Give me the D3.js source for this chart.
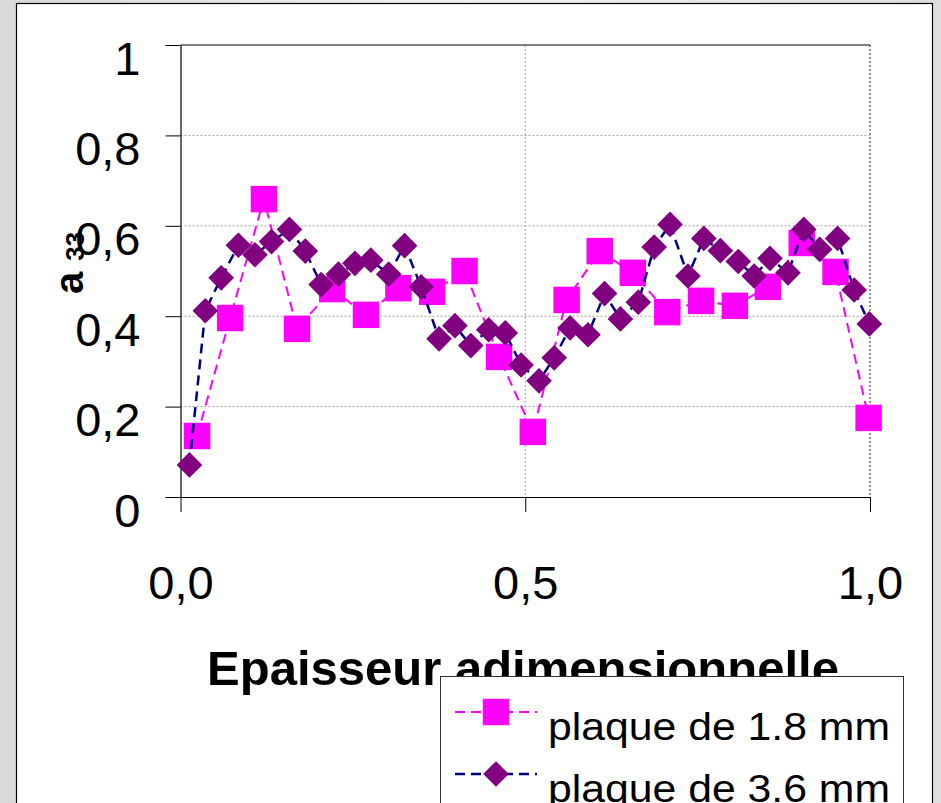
<!DOCTYPE html>
<html>
<head>
<meta charset="utf-8">
<script src="https://cdn.jsdelivr.net/npm/d3@7"></script>
<style>
  html, body { margin: 0; padding: 0; background: #ffffff; }
  svg { display: block; }
  text { font-family: "Liberation Sans", Arial, sans-serif; }
</style>
</head>
<body>
<svg id="chart" width="941" height="803"></svg>
<script>
// ---- data ----
const xTickValues = [0, 0.5, 1];
const xTickLabels = ["0,0", "0,5", "1,0"];
const yTickValues = [0, 0.2, 0.4, 0.6, 0.8, 1];
const yTickLabels = ["0", "0,2", "0,4", "0,6", "0,8", "1"];

const seriesNames = ["plaque de 1.8 mm", "plaque de 3.6 mm"];

const x18 = [0.024, 0.072, 0.121, 0.169, 0.220, 0.269, 0.316, 0.365, 0.412, 0.462, 0.511,
             0.560, 0.608, 0.656, 0.706, 0.755, 0.804, 0.852, 0.901, 0.950, 0.998];
const y18 = [0.135, 0.396, 0.659, 0.372, 0.460, 0.403, 0.462, 0.454, 0.500, 0.310, 0.144,
             0.436, 0.544, 0.496, 0.409, 0.434, 0.423, 0.465, 0.562, 0.498, 0.175];

const x36 = [0.013, 0.036, 0.059, 0.084, 0.108, 0.132, 0.158, 0.181, 0.204, 0.229, 0.253,
             0.276, 0.302, 0.325, 0.349, 0.375, 0.398, 0.421, 0.447, 0.471, 0.494, 0.520,
             0.542, 0.565, 0.591, 0.615, 0.638, 0.664, 0.687, 0.710, 0.736, 0.759, 0.783,
             0.809, 0.832, 0.855, 0.881, 0.904, 0.927, 0.953, 0.977, 0.999];
const y36 = [0.071, 0.412, 0.485, 0.557, 0.536, 0.565, 0.592, 0.544, 0.470, 0.493, 0.517,
             0.524, 0.493, 0.556, 0.465, 0.350, 0.379, 0.335, 0.370, 0.363, 0.292, 0.257,
             0.308, 0.374, 0.359, 0.450, 0.394, 0.431, 0.553, 0.603, 0.489, 0.572, 0.545,
             0.521, 0.489, 0.528, 0.496, 0.592, 0.548, 0.572, 0.458, 0.383];

// ---- layout ----
const svg = d3.select("#chart");
const plot = { left: 180.5, right: 870, top: 45, bottom: 497 };

const x = d3.scaleLinear().domain([0, 1]).range([plot.left, plot.right]);
const y = d3.scaleLinear().domain([0, 1]).range([plot.bottom, plot.top]);

// background
const defs = svg.append("defs");
const bg = defs.append("linearGradient").attr("id", "bg").attr("x1", 0).attr("x2", 1).attr("y1", 0).attr("y2", 0);
bg.append("stop").attr("offset", "0").attr("stop-color", "#d9d9d9");
bg.append("stop").attr("offset", "0.5").attr("stop-color", "#f2f2f2");
bg.append("stop").attr("offset", "1").attr("stop-color", "#dedede");
svg.append("rect").attr("x", 0).attr("y", 0).attr("width", 941).attr("height", 803).attr("fill", "url(#bg)");

// chart box
svg.append("rect").attr("x", 16.5).attr("y", 3.5).attr("width", 916).attr("height", 820)
  .attr("fill", "#ffffff").attr("stroke", "#000").attr("stroke-width", 1.2);

// gridlines (horizontal)
svg.append("g").selectAll("line").data(yTickValues.filter(v => v > 0 && v < 1)).join("line")
  .attr("x1", plot.left).attr("x2", plot.right)
  .attr("y1", d => y(d)).attr("y2", d => y(d))
  .attr("stroke", "#a0a0a0").attr("stroke-width", 1).attr("stroke-dasharray", "2,2");
// gridlines (vertical)
svg.append("g").selectAll("line").data(xTickValues.filter(v => v > 0)).join("line")
  .attr("x1", d => x(d)).attr("x2", d => x(d))
  .attr("y1", plot.top).attr("y2", plot.bottom)
  .attr("stroke", d => d === 1 ? "#707070" : "#a0a0a0").attr("stroke-width", d => d === 1 ? 1.5 : 1)
  .attr("stroke-dasharray", "2,2");

// top border
svg.append("line").attr("x1", plot.left).attr("x2", plot.right)
  .attr("y1", y(1)).attr("y2", y(1)).attr("stroke", "#000").attr("stroke-width", 1.2);

// y axis
const yAxis = d3.axisLeft(y).tickValues(yTickValues)
  .tickFormat((d, i) => yTickLabels[i]).tickSize(15).tickSizeOuter(0);
const gy = svg.append("g").attr("transform", `translate(${plot.left},0)`).call(yAxis);
gy.select(".domain").attr("stroke", "#000").attr("stroke-width", 1.2);
gy.selectAll(".tick line").attr("stroke", "#000").attr("stroke-width", 1);
gy.selectAll(".tick text").attr("x", -40).attr("dy", 0).attr("y", 29)
  .attr("font-size", 47).attr("fill", "#000")
  .style("font-family", '"Liberation Sans", Arial, sans-serif');

// x axis
const xAxis = d3.axisBottom(x).tickValues(xTickValues)
  .tickFormat((d, i) => xTickLabels[i]).tickSize(15).tickSizeOuter(0);
const gx = svg.append("g").attr("transform", `translate(0,${plot.bottom})`).call(xAxis);
gx.select(".domain").attr("stroke", "#000").attr("stroke-width", 1.2);
gx.selectAll(".tick line").attr("stroke", "#000").attr("stroke-width", 1);
gx.selectAll(".tick text").attr("y", 102).attr("dy", 0)
  .attr("font-size", 47).attr("fill", "#000")
  .style("font-family", '"Liberation Sans", Arial, sans-serif');

// axis titles
svg.append("text").attr("x", 523).attr("y", 685).attr("text-anchor", "middle")
  .attr("font-size", 49).attr("font-weight", "bold").attr("fill", "#000")
  .text("Epaisseur adimensionnelle");

const yt = svg.append("text").attr("transform", "translate(83,294) rotate(-90)")
  .attr("text-anchor", "start").attr("font-weight", "bold").attr("fill", "#000");
yt.append("tspan").attr("font-size", 40).text("a");
yt.append("tspan").attr("font-size", 26).attr("dx", 11).attr("dy", 1).text("33");

// series
const squareSym = d3.symbol(d3.symbolSquare, 700);
const diamondSym = d3.symbol(d3.symbolSquare, 330);

const d18 = x18.map((v, i) => [v, y18[i]]);
const d36 = x36.map((v, i) => [v, y36[i]]);
const line = d3.line().x(d => x(d[0])).y(d => y(d[1]));

// series 1.8 mm
svg.append("path").datum(d18).attr("d", line).attr("fill", "none")
  .attr("stroke", "#ff00ff").attr("stroke-width", 2).attr("stroke-dasharray", "10,6");
svg.append("g").selectAll("path").data(d18).join("path")
  .attr("d", squareSym).attr("transform", d => `translate(${x(d[0])},${y(d[1])})`)
  .attr("fill", "#ff00ff");

// series 3.6 mm
svg.append("path").datum(d36).attr("d", line).attr("fill", "none")
  .attr("stroke", "#000080").attr("stroke-width", 2.5).attr("stroke-dasharray", "10,6");
svg.append("g").selectAll("path").data(d36).join("path")
  .attr("d", diamondSym).attr("transform", d => `translate(${x(d[0])},${y(d[1])}) rotate(45)`)
  .attr("fill", "#800080");

// legend
const lg = svg.append("g");
lg.append("rect").attr("x", 440.5).attr("y", 676.5).attr("width", 463).attr("height", 160)
  .attr("fill", "#fff").attr("stroke", "#333").attr("stroke-width", 1);
const legendItems = [
  { name: seriesNames[0], color: "#ff00ff", fill: "#ff00ff", sym: squareSym, rot: 0, w: 2 },
  { name: seriesNames[1], color: "#000080", fill: "#800080", sym: diamondSym, rot: 45, w: 2.5 }
];
legendItems.forEach((it, i) => {
  const cy = 712 + i * 62;
  lg.append("line").attr("x1", 455).attr("x2", 537).attr("y1", cy).attr("y2", cy)
    .attr("stroke", it.color).attr("stroke-width", it.w).attr("stroke-dasharray", "10,6");
  lg.append("path").attr("d", it.sym).attr("transform", `translate(496,${cy}) rotate(${it.rot})`)
    .attr("fill", it.fill);
  lg.append("text").attr("x", 548).attr("y", cy + 28).attr("font-size", 38)
    .attr("textLength", 342).attr("lengthAdjust", "spacingAndGlyphs")
    .attr("fill", "#000").text(it.name);
});
</script>
</body>
</html>
